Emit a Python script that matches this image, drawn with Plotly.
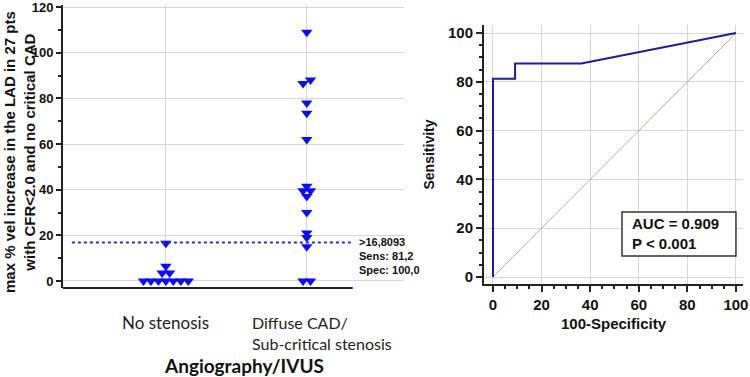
import plotly.graph_objects as go

# ---------------- data ----------------
categories = ["No stenosis", "Diffuse CAD/<br>Sub-critical stenosis"]
no_stenosis = [0, 0, 0, 0, 0, 0, 0, 3.5, 3.5, 6.5, 16.5]
diffuse = [0, 0, 15, 19, 21, 30, 37, 39.5, 39.5, 41.5, 62, 73.5, 78, 86.5, 88, 109]
cutoff = 16.8093
cutoff_text = [">16,8093", "Sens: 81,2", "Spec: 100,0"]
roc_fpr = [0, 0, 9.09, 9.09, 36.36, 100]
roc_tpr = [0, 81.25, 81.25, 87.5, 87.5, 100]
auc_text = ["AUC = 0.909", "P < 0.001"]
left_ticks = [0, 20, 40, 60, 80, 100, 120]
roc_ticks = [0, 20, 40, 60, 80, 100]


def swarm(vals, center, step=0.053, tol=1.6):
    vals = sorted(vals)
    groups, cur = [], [vals[0]]
    for v in vals[1:]:
        if v - cur[-1] < tol:
            cur.append(v)
        else:
            groups.append(cur)
            cur = [v]
    groups.append(cur)
    xs, ys = [], []
    for g in groups:
        n = len(g)
        for i, v in enumerate(g):
            xs.append(center + (i - (n - 1) / 2) * step)
            ys.append(v)
    return xs, ys


fig = go.Figure()
blue = "#0a0aff"
for ci, vals in enumerate([no_stenosis, diffuse]):
    xs, ys = swarm(vals, ci)
    fig.add_trace(go.Scatter(x=xs, y=ys, mode="markers",
                             marker=dict(symbol="triangle-down", size=10, color=blue,
                                         line=dict(width=0)),
                             xaxis="x", yaxis="y", showlegend=False))

# cutoff line
fig.add_trace(go.Scatter(x=[-0.667, 1.326], y=[cutoff, cutoff], mode="lines",
                         line=dict(color="#2a2ad0", width=2, dash="dot"),
                         xaxis="x", yaxis="y", showlegend=False))

# ROC
fig.add_trace(go.Scatter(x=[0, 100], y=[0, 100], mode="lines",
                         line=dict(color="#d89a9a", width=1),
                         xaxis="x2", yaxis="y2", showlegend=False))
fig.add_trace(go.Scatter(x=roc_fpr, y=roc_tpr, mode="lines",
                         line=dict(color="#1c1ca0", width=2),
                         xaxis="x2", yaxis="y2", showlegend=False))

W, H = 750, 377
def px(x): return x / W
def py(y): return 1 - y / H

tickfont = dict(family="Liberation Sans, Arial", size=13, color="#111", weight="bold")
grid = "#d6d6d6"

fig.update_layout(
    width=W, height=H, margin=dict(l=0, r=0, t=0, b=0, autoexpand=False),
    paper_bgcolor="white", plot_bgcolor="white",
    xaxis=dict(domain=[px(63), px(404)], range=[-0.73, 1.69], tickvals=[0, 1],
               showticklabels=False, showgrid=True, gridcolor=grid, gridwidth=1,
               zeroline=False, showline=False, ticks="", automargin=False),
    yaxis=dict(domain=[py(288), py(5)], range=[-3.07, 120.9], tickvals=left_ticks,
               showgrid=True, gridcolor=grid, gridwidth=1, zeroline=False,
               showline=True, linecolor="#222", linewidth=2,
               ticks="outside", ticklen=5, tickwidth=1.5, tickcolor="#222",
               minor=dict(dtick=10, ticks="outside", ticklen=3, tickcolor="#222", showgrid=False),
               tickfont=tickfont, anchor="x", automargin=False, ticklabeloverflow="allow"),
    xaxis2=dict(domain=[px(484), px(743)], range=[-3.7, 102.9], tickvals=roc_ticks,
                showgrid=True, gridcolor=grid, zeroline=False,
                showline=True, linecolor="#222", linewidth=2,
                ticks="outside", ticklen=6, tickwidth=1.5, tickcolor="#222",
                minor=dict(dtick=5, ticks="outside", ticklen=3, tickcolor="#222", showgrid=False),
                tickfont=dict(family="Liberation Sans, Arial", size=15, color="#111", weight="bold"),
                title=dict(text="100-Specificity", standoff=6,
                           font=dict(family="Liberation Sans, Arial", size=15, color="#111", weight="bold")),
                anchor="y2", automargin=False, ticklabeloverflow="allow"),
    yaxis2=dict(domain=[py(284), py(25)], range=[-2.87, 103.3], tickvals=roc_ticks,
                showgrid=True, gridcolor=grid, zeroline=False,
                showline=True, linecolor="#222", linewidth=2,
                ticks="outside", ticklen=6, tickwidth=1.5, tickcolor="#222",
                minor=dict(dtick=5, ticks="outside", ticklen=3, tickcolor="#222", showgrid=False),
                tickfont=dict(family="Liberation Sans, Arial", size=15, color="#111", weight="bold"),
                title=dict(text="Sensitivity", standoff=10,
                           font=dict(family="Liberation Sans, Arial", size=14, color="#111", weight="bold")),
                anchor="x2", automargin=False, ticklabeloverflow="allow"),
)

shapes = [
    # bottom axis line of left plot
    dict(type="line", xref="x", yref="y domain", x0=-0.73, x1=1.326, y0=0, y1=0,
         line=dict(color="#222", width=2)),
    # AUC box
    dict(type="rect", xref="x2", yref="y2", x0=53.1, x1=100, y0=8.6, y1=26.6,
         line=dict(color="#333", width=1.5), fillcolor="white", layer="above"),
]
fig.update_layout(shapes=shapes)

ann = []
bold = dict(family="Liberation Sans, Arial", color="#111", weight="bold")
ann.append(dict(text="max % vel increase in the LAD in 27 pts<br>with CFR<2.0 and no critical CAD",
                xref="paper", yref="paper", x=px(19), y=py(152), textangle=-90,
                xanchor="center", yanchor="middle",
                showarrow=False, font=dict(size=15, **bold), align="center"))
for i, t in enumerate(cutoff_text):
    ann.append(dict(text=t, xref="paper", yref="paper", x=px(357), y=py(242 + 14 * i),
                    xanchor="left", yanchor="middle", showarrow=False,
                    font=dict(size=11, **bold)))
cat_font = dict(family="Lato, Open Sans, sans-serif", size=16, color="#222")
ann.append(dict(text=categories[0], xref="x", yref="paper", x=0, y=py(322),
                xanchor="center", yanchor="middle", showarrow=False,
                font=dict(family="Lato, Open Sans, sans-serif", size=17, color="#222")))
ann.append(dict(text=categories[1], xref="paper", yref="paper", x=px(250), y=py(333),
                xanchor="left", yanchor="middle", showarrow=False, font=cat_font, align="left"))
ann.append(dict(text="Angiography/IVUS", xref="paper", yref="paper", x=px(244), y=py(365),
                xanchor="center", yanchor="middle", showarrow=False,
                font=dict(family="Lato, Open Sans, sans-serif", size=19, color="#111", weight="bold")))
ann.append(dict(text="<br>".join(auc_text), xref="paper", yref="paper", x=px(630), y=py(233),
                xanchor="left", yanchor="middle", showarrow=False, align="left",
                font=dict(size=15, **bold)))
fig.update_layout(annotations=ann)

fig.write_html("out.html", config={"displayModeBar": False},
               post_script="document.body.style.margin='0';document.body.style.overflow='hidden';")
